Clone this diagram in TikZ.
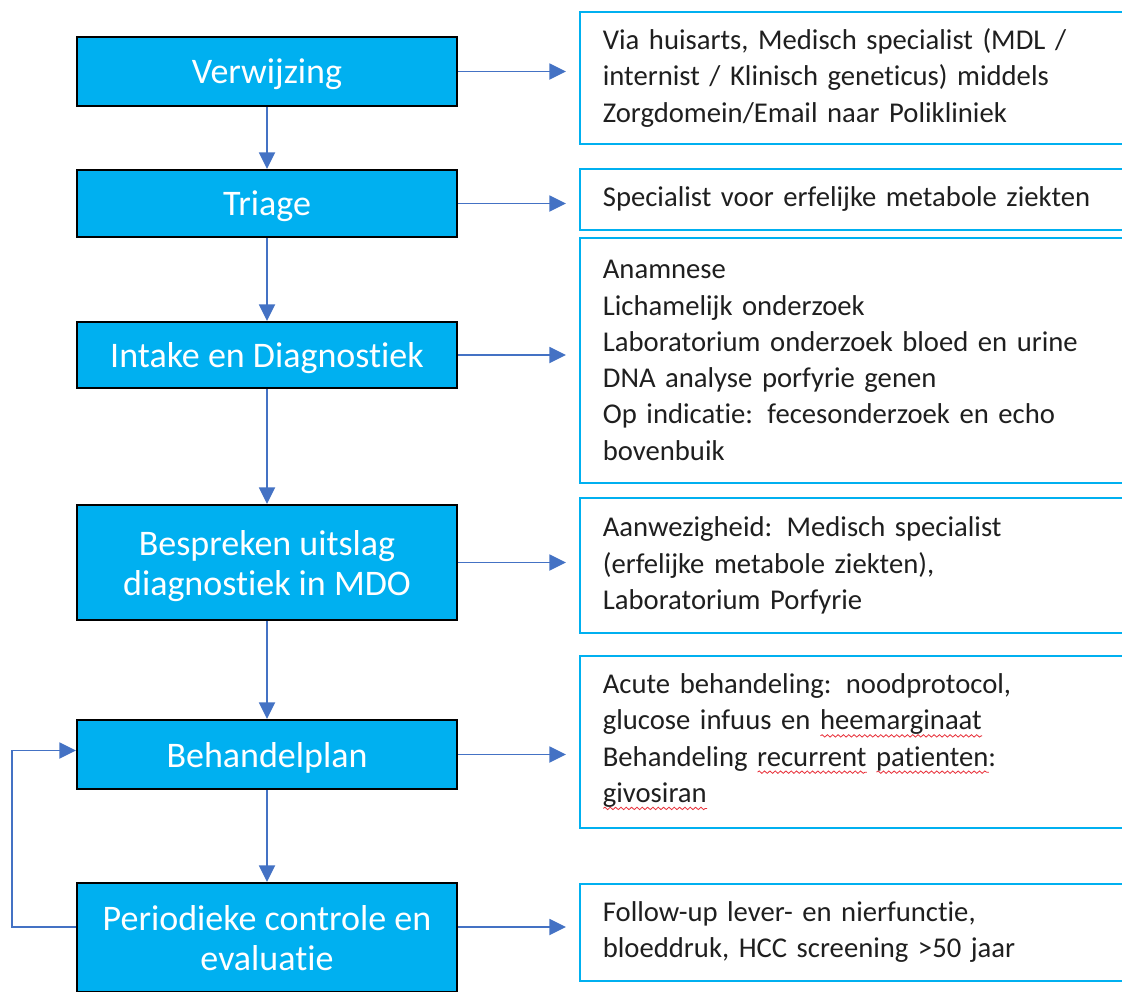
\documentclass[tikz,border=0pt]{standalone}
\usepackage{fontspec}
\setmainfont{Carlito}[Ligatures=NoCommon, RawFeature={-liga;-clig;-dlig}]
\usetikzlibrary{arrows.meta,calc,decorations.pathmorphing}

\definecolor{stepblue}{HTML}{00B0F0}
\definecolor{linkblue}{HTML}{4472C4}
\definecolor{spellred}{HTML}{E8303A}

% red wavy underline for flagged words
\newlength\spellwd
\newcommand\spellmark[1]{\leavevmode\settowidth\spellwd{#1}%
  \rlap{\tikz[baseline=0pt,x=1pt,y=1pt]\draw[spellred, line width=0.6pt,
    decorate, decoration={snake, amplitude=0.9pt, segment length=4pt}]
    (0pt,-4.5pt) -- (\spellwd,-4.5pt);}#1}

\begin{document}
\begin{tikzpicture}[x=0.75pt, y=-0.75pt,
  stepbox/.style={draw=black, line width=1.5pt, fill=stepblue, text=white,
    minimum width=285pt, align=center, inner sep=0pt, text depth=0pt,
    font=\fontsize{27}{30}\selectfont},
  infobox/.style={draw=stepblue, line width=1.3pt, fill=white, anchor=north west,
    text width=386.25pt, inner xsep=17.25pt, inner ysep=0pt, align=left,
    text=black!88, font=\fontsize{21.5}{27.2}\selectfont},
  flow/.style={draw=linkblue, line width=1.4pt, -{Triangle[length=12.5pt,width=12pt]}},
  sideflow/.style={flow, shorten >=9.75pt}]

\clip (0,0) rectangle (1122,992);
\fill[white] (0,0) rectangle (1122,992);

% main process steps
\node[stepbox, minimum height=51.75pt] (verw)   at (267,71.5)  {Verwijzing};
\node[stepbox, minimum height=50.25pt] (triage) at (267,203.5) {Triage};
\node[stepbox, minimum height=49.5pt]  (intake) at (267,355)   {Intake en Diagnostiek};
\node[stepbox, minimum height=86.25pt] (besp)   at (267,562.5) {Bespreken uitslag\\diagnostiek in MDO};
\node[stepbox, minimum height=51.75pt] (behan)  at (267,754.5) {Behandelplan};
\node[stepbox, minimum height=81.75pt] (perio)  at (267,937.5) {Periodieke controle en\\evaluatie};

% details per step
\node[infobox, minimum height=99pt] (r1) at (579,11)
  {Via huisarts, Medisch specialist (MDL /\\
   internist / Klinisch geneticus) middels\\
   Zorgdomein/Email naar Polikliniek};
\node[infobox, minimum height=45.75pt] (r2) at (579,168)
  {Specialist voor erfelijke metabole ziekten};
\node[infobox, minimum height=183.75pt] (r3) at (579,237)
  {Anamnese\\
   Lichamelijk onderzoek\\
   Laboratorium onderzoek bloed en urine\\
   DNA analyse porfyrie genen\\
   Op indicatie: fecesonderzoek en echo\\
   bovenbuik};
\node[infobox, minimum height=101.25pt] (r4) at (579,497)
  {Aanwezigheid: Medisch specialist\\
   (erfelijke metabole ziekten),\\
   Laboratorium Porfyrie};
\node[infobox, minimum height=129pt] (r5) at (579,655)
  {Acute behandeling: noodprotocol,\\
   glucose infuus en \spellmark{heemarginaat}\\
   Behandeling \spellmark{recurrent} \spellmark{patienten}:\\
   \spellmark{givosiran}};
\node[infobox, minimum height=72.75pt] (r6) at (579,883)
  {Follow-up lever- en nierfunctie,\\
   bloeddruk, HCC screening >50 jaar};

% main flow
\draw[flow] (verw)   -- (triage);
\draw[flow] (triage) -- (intake);
\draw[flow] (intake) -- (besp);
\draw[flow] (besp)   -- (behan);
\draw[flow] (behan)  -- (perio);

% links to the details
\draw[sideflow] (verw.east)   -- (verw.east -| r1.west);
\draw[sideflow] (triage.east) -- (triage.east -| r2.west);
\draw[sideflow] (intake.east) -- (intake.east -| r3.west);
\draw[sideflow] (besp.east)   -- (besp.east -| r4.west);
\draw[sideflow] (behan.east)  -- (behan.east -| r5.west);
\coordinate (pe) at ([yshift=-33.75pt]perio.north east);
\draw[sideflow] (pe) -- (pe -| r6.west);

% feedback loop from evaluation back to the treatment plan
\coordinate (pw) at ([yshift=-33.75pt]perio.north west);
\coordinate (loop) at (12,840);
\draw[flow] (pw) -| (loop) |- ([yshift=3pt]behan.west);
\end{tikzpicture}
\end{document}
